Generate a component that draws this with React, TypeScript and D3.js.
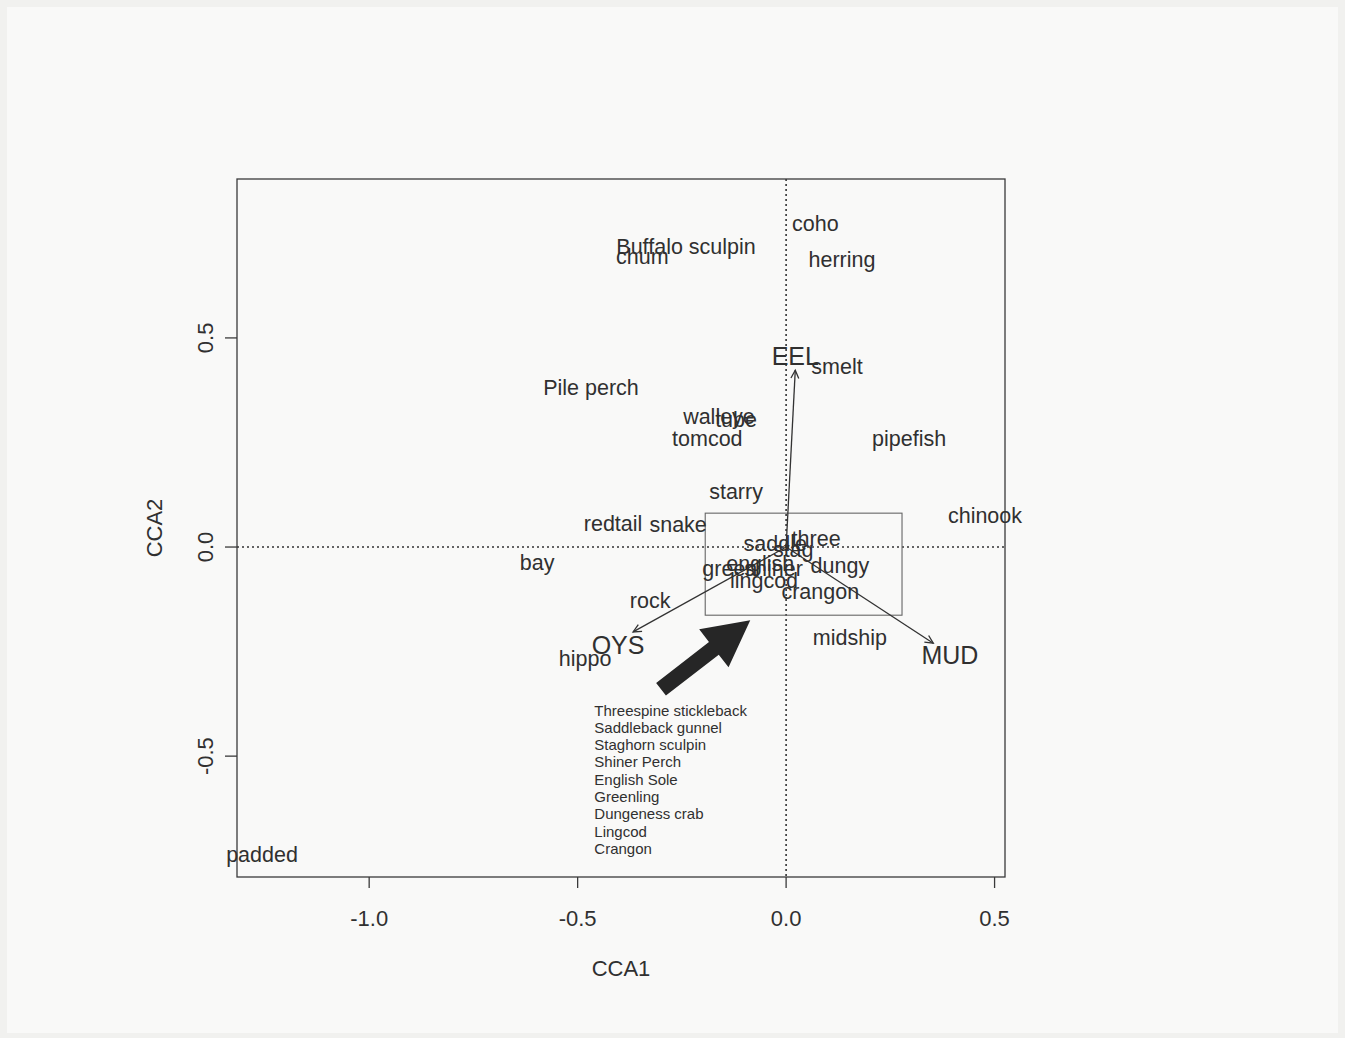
import React, { useEffect, useRef } from "react";
import * as d3 from "d3";

// species scores (CCA1, CCA2)
const species = [
  "coho", "Buffalo sculpin", "chum", "herring", "smelt", "Pile perch",
  "walleye", "tube", "tomcod", "pipefish", "starry", "chinook", "redtail",
  "snake", "bay", "saddle", "three", "stag", "english", "green", "shiner",
  "dungy", "lingcod", "crangon", "rock", "hippo", "midship", "padded",
];
const speciesX = [
  0.07, -0.24, -0.345, 0.134, 0.122, -0.468,
  -0.161, -0.12, -0.189, 0.295, -0.12, 0.477, -0.415,
  -0.259, -0.597, -0.026, 0.072, 0.017, -0.062, -0.135, -0.03,
  0.129, -0.053, 0.082, -0.326, -0.482, 0.153, -1.257,
];
const speciesY = [
  0.773, 0.72, 0.696, 0.687, 0.433, 0.383,
  0.313, 0.306, 0.261, 0.261, 0.134, 0.077, 0.057,
  0.055, -0.036, 0.01, 0.022, -0.005, -0.038, -0.05, -0.05,
  -0.043, -0.079, -0.105, -0.127, -0.266, -0.215, -0.734,
];

// environmental vectors
const envNames = ["EEL", "OYS", "MUD"];
const envX = [0.022, -0.367, 0.353];
const envY = [0.423, -0.203, -0.23];
const envLabelX = [0.022, -0.403, 0.393];
const envLabelY = [0.457, -0.234, -0.258];

// zoom box around the crowded centre, and the pointer arrow
const boxX = [-0.194, 0.278];
const boxY = [0.081, -0.163];
const pointerFrom = [-0.3, -0.34];
const pointerTo = [-0.086, -0.175];

const keyNames = [
  "Threespine stickleback", "Saddleback gunnel", "Staghorn sculpin",
  "Shiner Perch", "English Sole", "Greenling", "Dungeness crab",
  "Lingcod", "Crangon",
];
const keyAnchor = [-0.46, -0.39];

const xTicks = [-1.0, -0.5, 0.0, 0.5];
const yTicks = [-0.5, 0.0, 0.5];

// R prints a plain hyphen for negatives
const fmt = (t: number) => t.toFixed(1);

export default function App() {
  const svgRef = useRef<SVGSVGElement | null>(null);

  useEffect(() => {
    if (!svgRef.current) return;
    const W = 1345;
    const H = 1038;
    const root = d3.select(svgRef.current);
    root.selectAll("*").remove();
    root.attr("width", W).attr("height", H);

    const font = "'Liberation Sans', Arial, sans-serif";
    const ink = "#303030";

    // scanned page
    root.append("rect").attr("width", W).attr("height", H).attr("fill", "#f1f1ef");
    root.append("rect").attr("x", 7).attr("y", 7).attr("width", W - 14).attr("height", H - 12).attr("fill", "#f9f9f8");

    const left = 237, right = 1005, top = 179, bottom = 877;
    const x = d3.scaleLinear().domain([-1.317, 0.525]).range([left, right]);
    const y = d3.scaleLinear().domain([0.88, -0.789]).range([top, bottom]);

    const g = root.append("g").attr("font-family", font).attr("fill", ink);

    // dotted zero lines
    g.append("line")
      .attr("x1", left).attr("x2", right).attr("y1", y(0)).attr("y2", y(0))
      .attr("stroke", "#333").attr("stroke-width", 1.6).attr("stroke-dasharray", "2,3");
    g.append("line")
      .attr("x1", x(0)).attr("x2", x(0)).attr("y1", top).attr("y2", bottom)
      .attr("stroke", "#333").attr("stroke-width", 1.6).attr("stroke-dasharray", "2,3");

    // frame
    g.append("rect")
      .attr("x", left).attr("y", top).attr("width", right - left).attr("height", bottom - top)
      .attr("fill", "none").attr("stroke", "#3a3a3a").attr("stroke-width", 1.3);

    // x axis
    xTicks.forEach((t) => {
      g.append("line").attr("x1", x(t)).attr("x2", x(t)).attr("y1", bottom).attr("y2", bottom + 11)
        .attr("stroke", "#3a3a3a").attr("stroke-width", 1.3);
      g.append("text").attr("x", x(t)).attr("y", 926).attr("text-anchor", "middle")
        .attr("font-size", 22).text(fmt(t));
    });
    g.append("text").attr("x", (left + right) / 2).attr("y", 976).attr("text-anchor", "middle")
      .attr("font-size", 22).text("CCA1");

    // y axis
    yTicks.forEach((t) => {
      g.append("line").attr("x1", left - 12).attr("x2", left).attr("y1", y(t)).attr("y2", y(t))
        .attr("stroke", "#3a3a3a").attr("stroke-width", 1.3);
      g.append("text").attr("transform", `translate(213,${y(t)}) rotate(-90)`)
        .attr("text-anchor", "middle").attr("font-size", 22).text(fmt(t));
    });
    g.append("text").attr("transform", `translate(162,${(top + bottom) / 2}) rotate(-90)`)
      .attr("text-anchor", "middle").attr("font-size", 22).text("CCA2");

    // zoom box
    g.append("rect")
      .attr("x", x(boxX[0])).attr("y", y(boxY[0]))
      .attr("width", x(boxX[1]) - x(boxX[0])).attr("height", y(boxY[1]) - y(boxY[0]))
      .attr("fill", "none").attr("stroke", "#666").attr("stroke-width", 1.1);

    // env arrows
    envNames.forEach((name, i) => {
      const x0 = x(0), y0 = y(0), x1 = x(envX[i]), y1 = y(envY[i]);
      const ang = Math.atan2(y1 - y0, x1 - x0);
      const len = 9, spread = Math.PI / 7;
      g.append("line").attr("x1", x0).attr("y1", y0).attr("x2", x1).attr("y2", y1)
        .attr("stroke", "#333").attr("stroke-width", 1.3);
      const head = d3.path();
      head.moveTo(x1 - len * Math.cos(ang - spread), y1 - len * Math.sin(ang - spread));
      head.lineTo(x1, y1);
      head.lineTo(x1 - len * Math.cos(ang + spread), y1 - len * Math.sin(ang + spread));
      g.append("path").attr("d", head.toString()).attr("fill", "none")
        .attr("stroke", "#333").attr("stroke-width", 1.3);
      g.append("text").attr("x", x(envLabelX[i])).attr("y", y(envLabelY[i])).attr("dy", "0.36em")
        .attr("text-anchor", "middle").attr("font-size", 25).text(name);
    });

    // species labels
    species.forEach((s, i) => {
      g.append("text").attr("x", x(speciesX[i])).attr("y", y(speciesY[i])).attr("dy", "0.36em")
        .attr("text-anchor", "middle").attr("font-size", 21.5).text(s);
    });

    // big pointer arrow
    {
      const ax = x(pointerFrom[0]), ay = y(pointerFrom[1]);
      const bx = x(pointerTo[0]), by = y(pointerTo[1]);
      const ang = Math.atan2(by - ay, bx - ax);
      const L = Math.hypot(bx - ax, by - ay);
      const shaftW = 8, headW = 24, headL = 46;
      const pts: [number, number][] = [
        [0, -shaftW], [L - headL, -shaftW], [L - headL, -headW], [L, 0],
        [L - headL, headW], [L - headL, shaftW], [0, shaftW],
      ];
      const c = Math.cos(ang), sn = Math.sin(ang);
      const poly = pts.map(([u, v]) => [ax + u * c - v * sn, ay + u * sn + v * c]);
      g.append("polygon").attr("points", poly.map((p) => p.join(",")).join(" "))
        .attr("fill", "#262626");
    }

    // key of full names
    const kx = x(keyAnchor[0]), ky = y(keyAnchor[1]);
    keyNames.forEach((k, i) => {
      g.append("text").attr("x", kx).attr("y", ky + i * 17.3).attr("dy", "0.36em")
        .attr("font-size", 15).text(k);
    });
  }, []);

  return (
    <div style={{ position: "absolute", left: 0, top: 0 }}>
      <svg ref={svgRef}></svg>
    </div>
  );
}
